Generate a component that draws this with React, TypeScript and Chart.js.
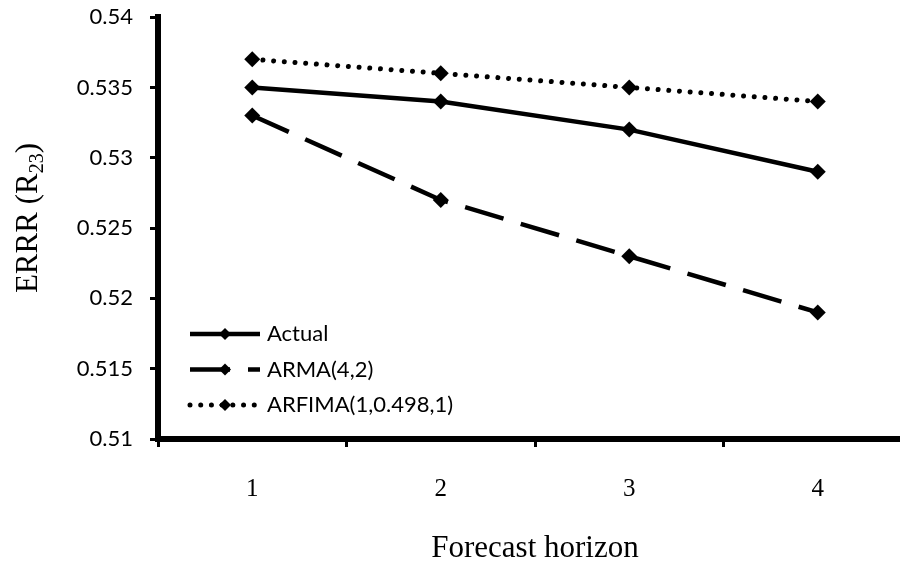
import React, { useEffect, useRef } from "react";
import { Chart, registerables } from "chart.js";

Chart.register(...registerables);

const categories = ["1", "2", "3", "4"];
const seriesNames = ["Actual", "ARMA(4,2)", "ARFIMA(1,0.498,1)"];
const actualValues = [0.535, 0.534, 0.532, 0.529];
const armaValues = [0.533, 0.527, 0.523, 0.519];
const arfimaValues = [0.537, 0.536, 0.535, 0.534];
const yMin = 0.51;
const yMax = 0.54;
const yStep = 0.005;
const xTitle = "Forecast horizon";
const yTitleMain = "ERRR (R";
const yTitleSub = "23";
const yTitleEnd = ")";

const SERIF = '"Times New Roman", "Liberation Serif", serif';
const SANS = 'Lato, "Open Sans", sans-serif';

const yTitlePlugin = {
  id: "yTitleSub",
  afterDraw(chart: any) {
    const ctx = chart.ctx;
    const mainFont = `31px ${SERIF}`;
    const subFont = `20px ${SERIF}`;
    ctx.save();
    ctx.font = mainFont;
    const w1 = ctx.measureText(yTitleMain).width;
    const w3 = ctx.measureText(yTitleEnd).width;
    ctx.font = subFont;
    const w2 = ctx.measureText(yTitleSub).width;
    const total = w1 + w2 + w3;
    const cy = (chart.chartArea.top + chart.chartArea.bottom) / 2 - 10;
    ctx.translate(37, cy);
    ctx.rotate(-Math.PI / 2);
    ctx.fillStyle = "#000";
    ctx.textBaseline = "alphabetic";
    ctx.textAlign = "left";
    let x = -total / 2;
    ctx.font = mainFont;
    ctx.fillText(yTitleMain, x, 0);
    x += w1;
    ctx.font = subFont;
    ctx.fillText(yTitleSub, x, 6);
    x += w2;
    ctx.font = mainFont;
    ctx.fillText(yTitleEnd, x, 0);
    ctx.restore();
  },
};

const legendPlugin = {
  id: "insideLegend",
  afterDraw(chart: any) {
    const ctx = chart.ctx;
    const area = chart.chartArea;
    const x0 = area.left + 32;
    const x1 = x0 + 70;
    const xm = (x0 + x1) / 2;
    const rowY0 = area.bottom - 105;
    const rowGap = 35.5;
    chart.data.datasets.forEach((ds: any, i: number) => {
      const y = rowY0 + i * rowGap;
      ctx.save();
      ctx.strokeStyle = ds.borderColor;
      ctx.lineWidth = ds.borderWidth;
      ctx.lineCap = ds.borderCapStyle || "butt";
      ctx.setLineDash(ds.borderDash || []);
      ctx.beginPath();
      ctx.moveTo(x0, y);
      ctx.lineTo(x1, y);
      ctx.stroke();
      ctx.setLineDash([]);
      ctx.fillStyle = ds.pointBackgroundColor;
      const r = 6;
      ctx.beginPath();
      ctx.moveTo(xm, y - r);
      ctx.lineTo(xm + r, y);
      ctx.lineTo(xm, y + r);
      ctx.lineTo(xm - r, y);
      ctx.closePath();
      ctx.fill();
      ctx.fillStyle = "#000";
      ctx.font = `22px ${SANS}`;
      ctx.textBaseline = "middle";
      ctx.textAlign = "left";
      ctx.fillText(ds.label, x1 + 7, y);
      ctx.restore();
    });
  },
};

export default function App() {
  const canvasRef = useRef<HTMLCanvasElement | null>(null);

  useEffect(() => {
    const canvas = canvasRef.current;
    if (!canvas) return;
    const mk = (label: string, data: number[], dash: number[], cap: string, width: number) => ({
      label,
      data,
      borderColor: "#000",
      backgroundColor: "#000",
      borderWidth: width,
      borderDash: dash,
      borderCapStyle: cap,
      pointStyle: "rectRot",
      pointRadius: 8,
      pointBorderWidth: 0,
      pointBackgroundColor: "#000",
      pointBorderColor: "#000",
      tension: 0,
      fill: false,
    });
    const chart = new Chart(canvas, {
      type: "line",
      data: {
        labels: categories,
        datasets: [
          mk(seriesNames[0], actualValues, [], "butt", 4.5),
          mk(seriesNames[1], armaValues, [40, 18], "butt", 4.5),
          mk(seriesNames[2], arfimaValues, [0.01, 10.7], "round", 5),
        ],
      } as any,
      options: {
        responsive: false,
        animation: false,
        devicePixelRatio: 1,
        layout: { padding: { top: 4, right: 8, left: 0, bottom: 0 } },
        plugins: {
          legend: { display: false },
          tooltip: { enabled: false },
        },
        scales: {
          x: {
            type: "category",
            offset: true,
            grid: {
              offset: true,
              display: true,
              drawOnChartArea: false,
              drawTicks: true,
              tickLength: 8,
              tickWidth: 3,
              tickColor: "#000",
              color: "#000",
            },
            border: { display: true, color: "#000", width: 6 },
            ticks: {
              color: "#000",
              font: { family: SERIF, size: 25 },
              padding: 27,
              maxRotation: 0,
            },
            title: {
              display: true,
              text: xTitle,
              color: "#000",
              font: { family: SERIF, size: 31 },
              padding: { top: 0, bottom: 0 },
            },
            afterFit(scale: any) {
              scale.height = 128;
            },
          },
          y: {
            min: yMin,
            max: yMax,
            grid: {
              display: true,
              drawOnChartArea: false,
              drawTicks: true,
              tickLength: 8,
              tickWidth: 3,
              tickColor: "#000",
              color: "#000",
            },
            border: { display: true, color: "#000", width: 6 },
            ticks: {
              stepSize: yStep,
              color: "#000",
              font: { family: SANS, size: 22, lineHeight: 0.01 },
              padding: 17,
              callback: (v: any) => String(Number(Number(v).toFixed(3))),
            },
            afterFit(scale: any) {
              scale.width = 158;
            },
          },
        },
      } as any,
      plugins: [yTitlePlugin, legendPlugin],
    });
    return () => chart.destroy();
  }, []);

  return (
    <div
      style={{
        position: "absolute",
        left: 0,
        top: 0,
        width: 900,
        height: 567,
        overflow: "hidden",
        background: "#fff",
      }}
    >
      <canvas
        ref={canvasRef}
        width={920}
        height={567}
        style={{ display: "block", width: 920, height: 567 }}
      />
    </div>
  );
}
